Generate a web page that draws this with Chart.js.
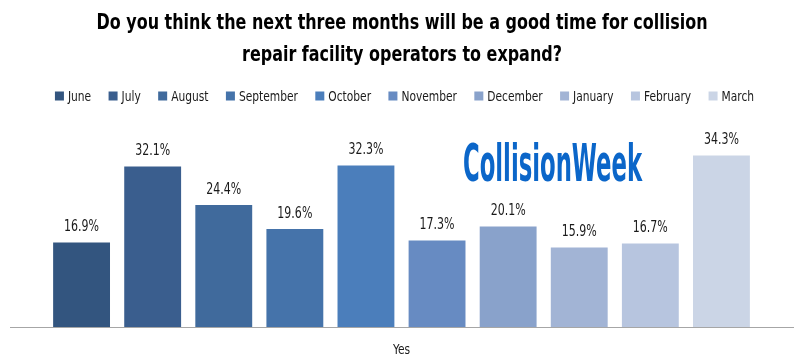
<!DOCTYPE html>
<html>
<head>
<meta charset="utf-8">
<script src="https://cdn.jsdelivr.net/npm/chart.js@4/dist/chart.umd.min.js"></script>
<style>
html,body{margin:0;padding:0;background:#fff;}
#wrap{width:800px;height:364px;position:relative;}
</style>
</head>
<body>
<div id="wrap"><canvas id="c" width="800" height="364"></canvas></div>
<script>
const categories = ['Yes'];
const months = ['June','July','August','September','October','November','December','January','February','March'];
const values = [16.9, 32.1, 24.4, 19.6, 32.3, 17.3, 20.1, 15.9, 16.7, 34.3];
const colors = ['#33557F','#3A5E8E','#406A9C','#4573AA','#4B7EBB','#678BC2','#89A2CB','#A2B4D5','#B7C5DF','#CBD5E6'];
const titleLines = ['Do you think the next three months will be a good time for collision','repair facility operators to expand?'];
const logoText = 'CollisionWeek';

const FONT = '"DejaVu Sans Condensed", "Liberation Sans Narrow", sans-serif';

const datasets = months.map((m, i) => ({
  label: m,
  data: [values[i]],
  backgroundColor: colors[i],
  borderWidth: 0,
  categoryPercentage: 0.908,
  barPercentage: 0.80
}));

// draw text horizontally compressed by factor sx
function drawText(ctx, text, x, y, align, sx) {
  const w = ctx.measureText(text).width * sx;
  let left = x;
  if (align === 'center') left = x - w / 2;
  else if (align === 'right') left = x - w;
  ctx.save();
  ctx.translate(left, y);
  ctx.scale(sx, 1);
  ctx.textAlign = 'left';
  ctx.fillText(text, 0, 0);
  ctx.restore();
  return w;
}

const decorPlugin = {
  id: 'decor',
  afterDraw(chart) {
    const ctx = chart.ctx;
    ctx.save();
    ctx.textBaseline = 'middle';

    // Title
    ctx.fillStyle = '#000';
    ctx.font = 'bold 21px ' + FONT;
    const tScale = 611 / ctx.measureText(titleLines[0]).width;
    drawText(ctx, titleLines[0], 402, 24, 'center', tScale);
    drawText(ctx, titleLines[1], 402, 56, 'center', tScale);

    // Legend
    ctx.font = '14px ' + FONT;
    ctx.fillStyle = '#1a1a1a';
    const lScale = 59 / ctx.measureText('September').width;
    const box = 9, gap = 4, pad = 17.4;
    const widths = months.map(m => ctx.measureText(m).width * lScale);
    const total = widths.reduce((a, b) => a + b, 0) + months.length * (box + gap) + pad * (months.length - 1);
    let x = 404.5 - total / 2;
    const ly = 96;
    months.forEach((m, i) => {
      ctx.fillStyle = colors[i];
      ctx.fillRect(x, ly - box / 2, box, box);
      ctx.fillStyle = '#1a1a1a';
      drawText(ctx, m, x + box + gap, ly + 1, 'left', lScale);
      x += box + gap + widths[i] + pad;
    });

    // Value labels
    ctx.font = '15px ' + FONT;
    ctx.fillStyle = '#1a1a1a';
    const vScale = 35 / ctx.measureText('16.9%').width;
    chart.data.datasets.forEach((ds, i) => {
      const meta = chart.getDatasetMeta(i);
      meta.data.forEach((bar, j) => {
        drawText(ctx, ds.data[j].toFixed(1) + '%', bar.x, bar.y - 15, 'center', vScale);
      });
    });

    // Category label
    const xs = chart.scales.x;
    ctx.font = '14px ' + FONT;
    drawText(ctx, categories[0], xs.getPixelForValue(0), chart.chartArea.bottom + 23, 'center', lScale);

    // Logo
    ctx.font = 'bold 52px ' + FONT;
    ctx.fillStyle = '#0B66C9';
    ctx.textBaseline = 'alphabetic';
    const gw = ctx.measureText(logoText).width;
    drawText(ctx, logoText, 463, 181, 'left', 179 / gw);

    ctx.restore();
  }
};

new Chart(document.getElementById('c'), {
  type: 'bar',
  data: { labels: categories, datasets },
  options: {
    responsive: false,
    animation: false,
    layout: { padding: { left: 10, right: 7, top: 127, bottom: 37 } },
    plugins: {
      title: { display: false },
      legend: { display: false },
      tooltip: { enabled: false }
    },
    scales: {
      x: {
        grid: { display: false, drawTicks: false },
        border: { display: true, color: '#A6A6A6', width: 1 },
        ticks: { display: false }
      },
      y: {
        display: false,
        min: 0,
        max: 40
      }
    }
  },
  plugins: [decorPlugin]
});
</script>
</body>
</html>
